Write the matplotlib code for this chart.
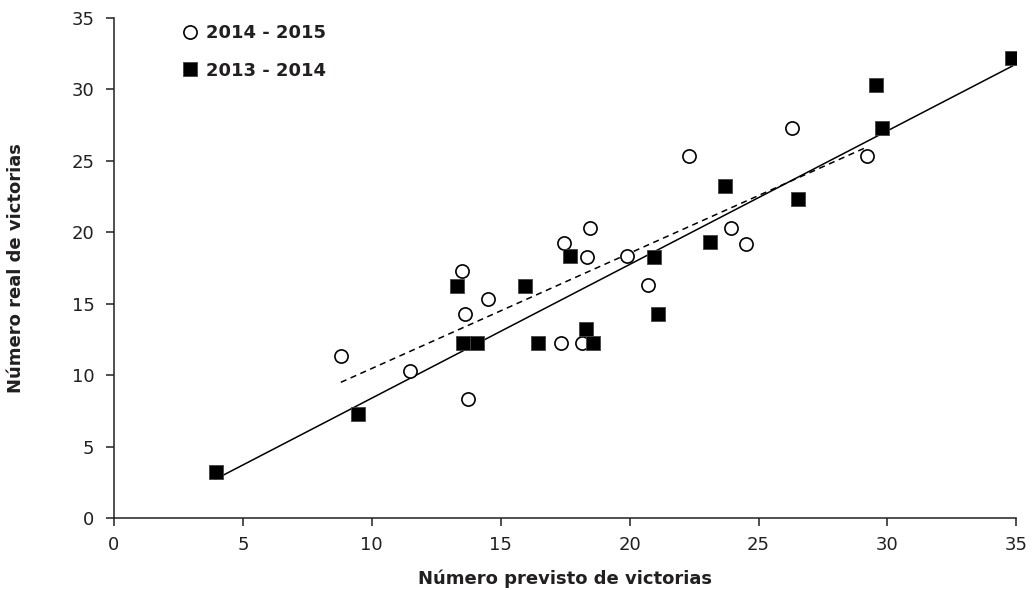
import numpy as np
import matplotlib
matplotlib.use('Agg')
import matplotlib.pyplot as plt
from matplotlib.lines import Line2D

plt.rcParams['font.family'] = ['DejaVu Sans']

# temporada 2014 - 2015 (circulos)
prev_1415 = [8.8, 11.5, 13.5, 13.6, 13.75, 14.5, 17.35, 17.45, 18.15, 18.35,
             18.45, 19.9, 20.7, 22.3, 23.95, 24.5, 26.3, 29.2]
real_1415 = [11.3, 10.3, 17.3, 14.25, 8.3, 15.3, 12.25, 19.25, 12.25, 18.25,
             20.3, 18.3, 16.3, 25.3, 20.3, 19.2, 27.3, 25.35]

# temporada 2013 - 2014 (cuadrados)
prev_1314 = [3.95, 9.45, 13.3, 13.55, 14.1, 15.95, 16.45, 17.7, 18.3, 18.6,
             20.95, 21.1, 23.1, 23.7, 26.55, 29.55, 29.8, 34.85]
real_1314 = [3.25, 7.3, 16.25, 12.25, 12.25, 16.25, 12.25, 18.3, 13.25, 12.25,
             18.25, 14.3, 19.3, 23.25, 22.3, 30.3, 27.3, 32.2]

ticks = [0, 5, 10, 15, 20, 25, 30, 35]
ink = '#231f20'


def fit_line(x, y):
    x = np.asarray(x)
    m, b = np.polyfit(x, np.asarray(y), 1)
    xs = np.array([x.min(), x.max()])
    return xs, m * xs + b


fig = plt.figure(figsize=(10.36, 5.90), dpi=100)
ax = fig.add_axes([0.110, 0.122, 0.871, 0.848])

xs, ys = fit_line(prev_1314, real_1314)
ax.plot(xs, ys, color='black', lw=1.1, zorder=2)
xs, ys = fit_line(prev_1415, real_1415)
ax.plot(xs, ys, color='black', lw=1.1, ls=(0, (4, 3)), zorder=2)

ax.scatter(prev_1415, real_1415, s=90, facecolor='white', edgecolor='black',
           linewidth=1.2, marker='o', zorder=3)
ax.scatter(prev_1314, real_1314, s=110, facecolor='black', edgecolor='#444444',
           linewidth=0.6, marker='s', zorder=3)

ax.set_xlim(0, 35)
ax.set_ylim(0, 35)
ax.set_xticks(ticks)
ax.set_yticks(ticks)
for side in ['top', 'right']:
    ax.spines[side].set_visible(False)
for side in ['left', 'bottom']:
    ax.spines[side].set_linewidth(1.1)
    ax.spines[side].set_color(ink)
ax.tick_params(direction='out', length=6, width=1.1, color=ink,
               labelsize=13, labelcolor=ink)
ax.tick_params(axis='y', pad=8)
ax.tick_params(axis='x', pad=7)

ax.set_xlabel('Número previsto de victorias', fontsize=13, fontweight='bold',
              color=ink)
ax.xaxis.set_label_coords(0.5, -0.102)
ax.set_ylabel('Número real de victorias', fontsize=13, fontweight='bold',
              color=ink)
ax.yaxis.set_label_coords(-0.099, 0.5)

handles = [
    Line2D([], [], ls='none', marker='o', ms=9.5, mfc='white', mec='black', mew=1.2),
    Line2D([], [], ls='none', marker='s', ms=10, mfc='black', mec='#444444', mew=0.6),
]
leg = ax.legend(handles, ['2014 - 2015', '2013 - 2014'], loc='upper left',
                bbox_to_anchor=(0.058, 1.02), frameon=False, handlelength=0.8,
                handletextpad=0.5, labelspacing=1.1,
                prop={'weight': 'bold', 'size': 13})
for t in leg.get_texts():
    t.set_color(ink)

fig.savefig('out.png', dpi=100)
